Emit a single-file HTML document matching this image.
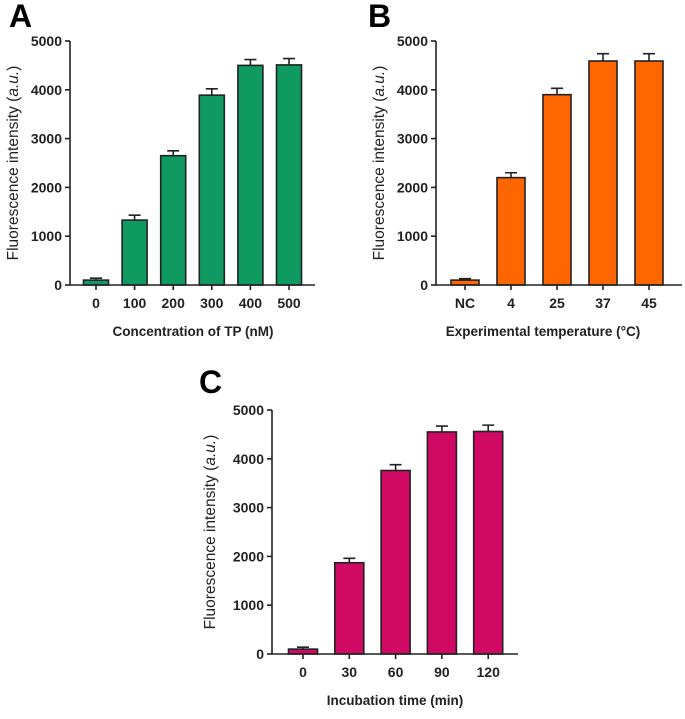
<!DOCTYPE html>
<html><head><meta charset="utf-8"><style>
body{margin:0;background:#fff}
svg text{font-family:"Liberation Sans",sans-serif}
</style></head><body>
<svg id="s" width="685" height="714" viewBox="0 0 685 714" xmlns="http://www.w3.org/2000/svg"></svg>
<script>
const catsA=["0","100","200","300","400","500"];
const valsA=[100,1330,2650,3890,4500,4510];
const errA=[40,100,100,130,120,130];
const catsB=["NC","4","25","37","45"];
const valsB=[100,2200,3900,4590,4590];
const errB=[30,100,130,150,150];
const catsC=["0","30","60","90","120"];
const valsC=[100,1870,3760,4550,4560];
const errC=[40,90,120,120,130];
const yTicks=[0,1000,2000,3000,4000,5000];
const NS="http://www.w3.org/2000/svg";
const svg=document.getElementById('s');
function el(t,a,p){const e=document.createElementNS(NS,t);for(const k in a)e.setAttribute(k,a[k]);(p||svg).appendChild(e);return e;}
function panel(o){
  const g=el('g',{});
  
  
  const y=v=>o.y0-(v/5000)*(o.y0-o.y5);
  const x=i=>o.c0+i*o.step;
  const lt=el('text',{x:o.lx,y:o.ly,'font-size':32,'font-weight':'bold'},g);lt.textContent=o.letter;
  
  
  o.vals.forEach((v,i)=>{
    const r=el('rect',{x:x(i)-o.bw/2,y:y(v),width:o.bw,height:y(0)-y(v),fill:o.color,stroke:'#222','stroke-width':1.6},g);
    
    
    const t=y(v+o.errs[i]);
    const e=el('path',{d:`M${x(i)} ${y(v)}V${t}M${x(i)-6} ${t}H${x(i)+6}`,stroke:'#222','stroke-width':1.6,fill:'none'},g);
    
    
    const tl=el('text',{x:x(i),y:o.y0+23,'font-size':14,'font-weight':'bold','text-anchor':'middle',fill:'#222'},g);tl.textContent=o.cats[i];
    
    
    el('line',{x1:x(i),x2:x(i),y1:o.y0,y2:o.y0+5,stroke:'#222','stroke-width':1.6},g);
  });
  yTicks.forEach(v=>{
    el('line',{x1:o.ax-5,x2:o.ax,y1:y(v),y2:y(v),stroke:'#222','stroke-width':1.6},g);
    const tl=el('text',{x:o.ax-8,y:y(v)+5,'font-size':14,'font-weight':'bold','text-anchor':'end',fill:'#222'},g);tl.textContent=v;
    
    
  });
  const ax=el('path',{d:`M${o.ax} ${o.y5}V${o.y0}H${o.xe}`,stroke:'#222','stroke-width':1.6,fill:'none'},g);
  
  
  const xl=el('text',{x:o.xlx,y:o.xly,'font-size':13.5,'font-weight':'bold','text-anchor':'middle',fill:'#222'},g);xl.textContent=o.xlab;
  
  
  const yl=el('text',{transform:`translate(${o.ylx},${(o.y0+o.y5)/2}) rotate(-90)`,'font-size':15.5,'text-anchor':'middle',fill:'#222'},g);
  yl.innerHTML='Fluorescence intensity (<tspan font-style="italic">a.u.</tspan>)';
  
  
}
panel({name:'panel-a',letter:'A',lx:9,ly:27,cats:catsA,vals:valsA,errs:errA,color:'#0f9a62',ax:70,xe:315,y0:285,y5:41,c0:96,step:38.6,bw:25,xlab:'Concentration of TP (nM)',xlx:193,xly:336,ylx:18});
panel({name:'panel-b',letter:'B',lx:368,ly:27,cats:catsB,vals:valsB,errs:errB,color:'#ff6600',ax:436,xe:682,y0:285,y5:41,c0:465,step:46,bw:28,xlab:'Experimental temperature (°C)',xlx:543,xly:336,ylx:384});
panel({name:'panel-c',letter:'C',lx:199,ly:393,cats:catsC,vals:valsC,errs:errC,color:'#d00a64',ax:272,xe:518,y0:654,y5:410,c0:303,step:46.3,bw:29,xlab:'Incubation time (min)',xlx:395,xly:705,ylx:215});
</script>
</body></html>
